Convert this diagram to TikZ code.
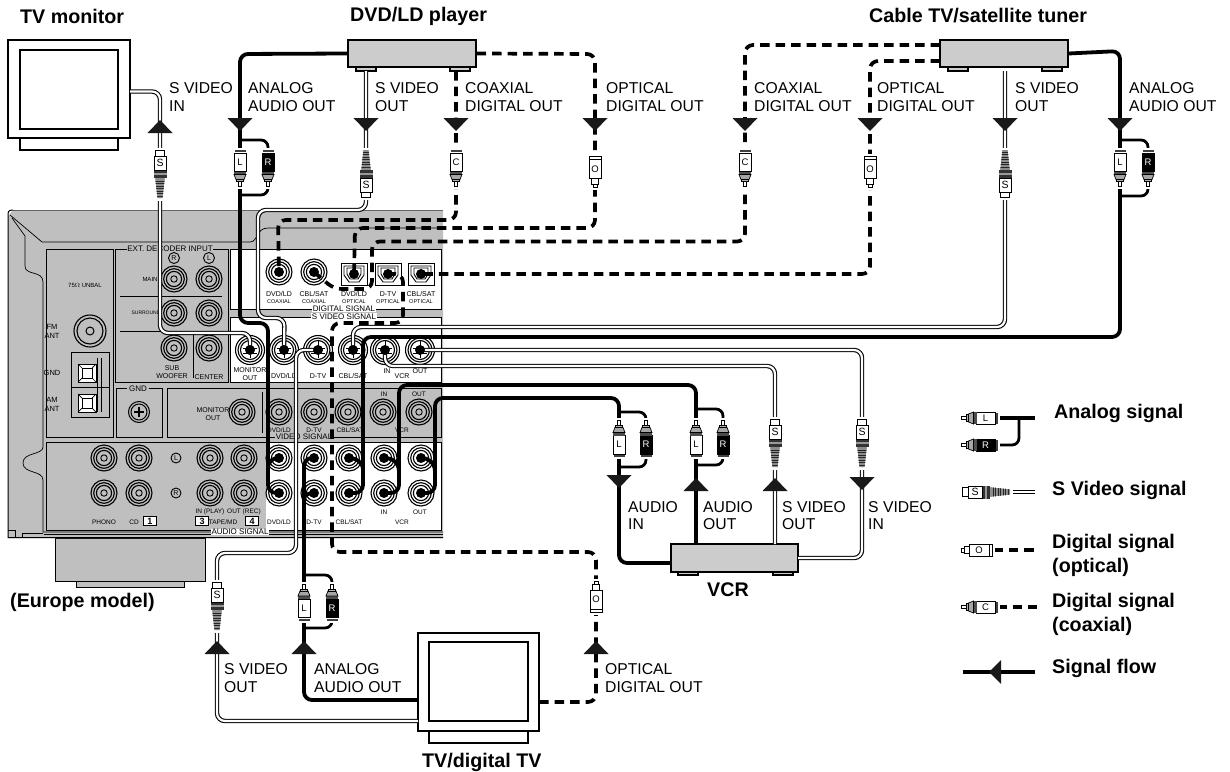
\documentclass[tikz,border=0pt]{standalone}
\usepackage{fontspec}
\setmainfont{Liberation Sans}
\definecolor{panelgray}{gray}{0.75}
\definecolor{boxgray}{gray}{0.80}
\newcounter{nodectr}
\newcommand\nn{n\number\value{nodectr}}
\tikzset{
  lab/.style={font=\fontsize{15.7}{17.6}\selectfont,anchor=west,align=left,inner sep=0pt},
  ttl/.style={font=\fontsize{19.7}{22}\selectfont\bfseries,anchor=west,align=left,inner sep=0pt},
  leg/.style={font=\fontsize{19.7}{24}\selectfont\bfseries,anchor=west,align=left,inner sep=0pt},
  device/.style={draw=black,line width=1.3pt,fill=boxgray,inner sep=0pt},
  frame/.style={draw=black,line width=1.3pt,fill=white,inner sep=0pt},
  analog/.style={draw=black,line width=3.8pt,rounded corners=8pt},
  branch/.style={draw=black,line width=2.8pt,rounded corners=7pt},
  svid/.style={draw=black,line width=1.1pt,double=white,double distance=2.2pt,rounded corners=8pt},
  digi/.style={draw=black,line width=3.7pt,dash pattern=on 9.5pt off 6pt,rounded corners=8pt},
  panelline/.style={draw=black,line width=0.7pt},
  pbox/.style={draw=black,line width=0.9pt},
}
% small panel text
\newcommand\sm[4][7]{\stepcounter{nodectr}\node[font=\fontsize{#1}{#1}\selectfont,inner sep=0pt,align=center] (\nn) at (#2,#3) {#4};}
\newcommand\smf[5][7]{\stepcounter{nodectr}\node[font=\fontsize{#1}{#1}\selectfont,inner sep=0.6pt,fill=#5,align=center] (\nn) at (#2,#3) {#4};}
% jacks
\newcommand\jack[2]{\draw[line width=1.1pt] (#1,#2) circle[radius=13pt] (#1,#2) circle[radius=10.3pt] (#1,#2) circle[radius=7.6pt];\draw[line width=0.9pt] (#1,#2) circle[radius=3.2pt];}
\newcommand\sjack[2]{\draw[line width=1.1pt] (#1,#2) circle[radius=14.5pt] (#1,#2) circle[radius=12pt] (#1,#2) circle[radius=9.5pt];\draw[line width=0.8pt] (#1-7,#2-2)--(#1+7,#2-2) (#1-7,#2+3)--(#1+7,#2+3) (#1,#2-9)--(#1,#2+8);}
\newcommand\opt[2]{\draw[line width=0.9pt,fill=white] (#1-13,#2-11) rectangle (#1+13,#2+11);\draw[line width=0.9pt] (#1-10,#2-8)--(#1+10,#2-8)--(#1+10,#2+1)--(#1+5,#2+8)--(#1-5,#2+8)--(#1-10,#2+1)--cycle (#1-7,#2-6)--(#1+7,#2-6)--(#1+7,#2)--(#1+4,#2+5)--(#1-4,#2+5)--(#1-7,#2)--cycle;}
\newcommand\dotj[1]{\fill[black] (#1) circle[radius=5pt];}
% flow arrows
\newcommand\flowdn[2]{\fill[black!90] (#1-12.5,#2)--(#1+12.5,#2)--(#1,#2+13)--cycle;}
\newcommand\flowup[2]{\fill[black!90] (#1-12.5,#2+13)--(#1+12.5,#2+13)--(#1,#2)--cycle;}
% plugs: x y rotation label bodycolor textcolor
\newcommand\rca[6]{\stepcounter{nodectr}\begin{scope}[shift={(#1,#2)},rotate=#3]
  \fill[white] (-7,-20.5) rectangle (7,20.5);
  \fill[black!75] (-5.5,-18.5) rectangle (5.5,-16.5);
  \draw[line width=0.8pt,fill=#5] (-6,-15.5) rectangle (6,3);
  \fill[black!70] (-6,3) rectangle (6,6);
  \draw[line width=0.7pt,fill=black!35] (-6,6)--(6,6)--(4,11)--(-4,11)--cycle;
  \draw[line width=0.7pt,fill=black!30] (-3.5,11) rectangle (3.5,13);
  \draw[line width=0.7pt,fill=white] (-1.3,13) rectangle (1.3,18) ;
  \node[font=\fontsize{9.5}{9.5}\selectfont,text=#6,inner sep=0pt] (\nn) at (0,-6) {#4};
\end{scope}}
\newcommand\splug[3]{\stepcounter{nodectr}\begin{scope}[shift={(#1,#2)},rotate=#3]
  \fill[white] (-7.5,-26.5) rectangle (7.5,26);
  \fill[black!45] (-2.8,-24)--(2.8,-24)--(5,-4)--(-5,-4)--cycle;
  \foreach \t in {-22,-19.5,...,-5}{\draw[black!85,line width=0.6pt] (-5,\t)--(5,\t);}
  \fill[white] (-7.5,-24)--(-2.8,-24)--(-5,-4)--(-7.5,-4)--cycle (7.5,-24)--(2.8,-24)--(5,-4)--(7.5,-4)--cycle;
  \fill[black!80] (-6.5,-4) rectangle (6.5,4);
  \fill[black!40] (-6.5,-1) rectangle (6.5,1);
  \draw[line width=0.7pt,fill=white] (-6,4) rectangle (6,18);
  \draw[line width=0.7pt,fill=white] (-4.5,18) rectangle (4.5,23.5);
  \node[font=\fontsize{10.5}{10.5}\selectfont,inner sep=0pt] (\nn) at (0,11) {S};
\end{scope}}
\newcommand\oplug[3]{\stepcounter{nodectr}\begin{scope}[shift={(#1,#2)},rotate=#3]
  \fill[white] (-7,-18) rectangle (7,18);
  \draw[line width=0.7pt,fill=white] (-6,-15.5) rectangle (6,-12.5);
  \draw[line width=0.7pt,fill=white] (-6,-12.5) rectangle (6,7);
  \draw[line width=0.7pt,fill=white] (-3.8,7) rectangle (3.8,12.5);
  \draw[line width=0.7pt,fill=white] (-2,12.5) rectangle (2,15.5);
  \node[font=\fontsize{9.5}{9.5}\selectfont,inner sep=0pt] (\nn) at (0,-2.5) {O};
\end{scope}}
\begin{document}
\begin{tikzpicture}[x=1pt,y=-1pt]
\useasboundingbox (0,0) rectangle (1230,771);
\fill[white] (0,0) rectangle (1230,771);

%%% receiver panel
\node[draw=black,line width=1pt,fill=panelgray,minimum width=150pt,minimum height=43pt,inner sep=0pt] (stand) at (130,559.5) {};
\node[draw=black,line width=1pt,fill=panelgray,minimum width=108pt,minimum height=6pt,inner sep=0pt] (standb) at (130,584) {};
\fill[panelgray] (8,538)--(8,216)--(13,210)--(443,210)--(443,538)--cycle;
\draw[black!60,line width=0.6pt] (443,210)--(13,210);
\draw[line width=1pt] (13,210)..controls (8,210) and (8,212) .. (8,216)--(8,537.5)--(443,537.5);
\draw[panelline] (10,215)--(42,242)--(250,242)..controls (258,242) and (256,228) .. (268,228)--(443,228);
\draw[panelline] (12,218)--(25,236)--(25,266)..controls (25,276) and (43,270) .. (43,282)--(43,447)..controls (43,455) and (23,452) .. (23,463)..controls (23,474) and (43,470) .. (43,480)--(43,532)--(443,532);
\draw[panelline] (8,530)--(15,530)--(15,537) (22,537)--(22,533)--(43,533);
\draw[panelline] (44,534.5)--(443,534.5);
% boxes
\draw[pbox] (46,249) rectangle (113,437);
\draw[pbox] (115,249) rectangle (228,382);
\draw[pbox,fill=white] (230,249)--(441,249)--(441,309)--(230,309)--cycle;
\draw[pbox,fill=white] (230,317)--(441,317)--(441,382)--(230,382)--cycle;
\draw[pbox] (116,388) rectangle (162,437);
\draw[pbox] (167,388) rectangle (441,437);
\draw[pbox] (46,442) rectangle (441,530);
\fill[white] (266,442.5) rectangle (440.5,529.5);
\draw[line width=0.9pt] (120,296)--(222,296) (120,331)--(222,331) (193,335)--(193,378) (262,392)--(262,433);
% ext decoder jacks
\foreach \x/\y in {174/279,209/279,174/313,209/313,174/348,209/348,
  242/412,279/412,314/412,348/412,383/412,419/412,
  104/458,139/458,210/458,244/458,279/458,314/458,349/458,384/458,421/458,
  104/493,139/493,210/493,244/493,279/493,314/493,349/493,384/493,421/493,
  279/272,314/272} {\jack{\x}{\y}}
\draw[line width=1.1pt] (90,331) circle[radius=16pt] (90,331) circle[radius=13pt];
\draw[line width=1pt] (90,331) circle[radius=4pt];
\foreach \x in {250,284,318,353,385,420} {\sjack{\x}{350}}
\foreach \x in {354,388,421} {\opt{\x}{274}}
\draw[line width=0.9pt] (174,258) circle[radius=5.5pt] (209,258) circle[radius=5.5pt];
\draw[line width=0.9pt] (176,458) circle[radius=5pt] (176,493) circle[radius=5pt];
\sm[7]{174}{258}{R}\sm[7]{209}{258}{L}
\sm[7]{176}{458}{L}\sm[7]{176}{493}{R}
% terminals
\draw[line width=1pt,fill=black!25] (71,352) rectangle (109,417);
\draw[line width=0.8pt] (71,387)--(109,387) (97,358)--(97,412) (101,358)--(101,412);
\foreach \y in {373,403} {\draw[line width=1pt,fill=white] (78,\y-9) rectangle (96,\y+9);\draw[line width=0.7pt] (78,\y-9)--(96,\y+9) (96,\y-9)--(78,\y+9);\draw[line width=0.8pt,fill=white] (82,\y-5) rectangle (92,\y+5);}
\draw[line width=1pt] (139,412) circle[radius=10.5pt] (139,412) circle[radius=8pt];
\draw[line width=1.6pt] (134,412)--(144,412) (139,407)--(139,417);
% panel text
\smf[8]{170}{249}{EXT. DECODER INPUT}{panelgray}
\smf[8]{138}{389}{\,GND\,}{panelgray}
\sm[6]{85}{285}{75$\Omega$ UNBAL}
\sm[6]{150}{279}{MAIN}\sm[5]{146}{313}{SURROUND}
\sm[7.5]{52}{331.5}{FM\\[1pt]ANT}\sm[7.5]{52}{373}{GND}\sm[7.5]{52}{404.5}{AM\\[1pt]ANT}
\sm[7]{172}{372}{SUB\\[0.5pt]WOOFER}\sm[7]{209}{377}{CENTER}
\sm[7]{213}{414}{MONITOR\\[1pt]OUT}
\sm[7]{279}{294}{DVD/LD}\sm[5.5]{279}{302}{COAXIAL}
\sm[7]{314}{294}{CBL/SAT}\sm[5.5]{314}{302}{COAXIAL}
\sm[7]{354}{294}{DVD/LD}\sm[5.5]{354}{302}{OPTICAL}
\sm[7]{388}{294}{D-TV}\sm[5.5]{388}{302}{OPTICAL}
\sm[7]{421}{294}{CBL/SAT}\sm[5.5]{421}{302}{OPTICAL}
\smf[8]{344}{309}{DIGITAL SIGNAL}{white}
\smf[8]{344}{316.5}{S VIDEO SIGNAL}{white}
\sm[7]{250}{374}{MONITOR\\[0.5pt]OUT}
\sm[7]{284}{376}{DVD/LD}\sm[7]{318}{376}{D-TV}\sm[7]{353}{376}{CBL/SAT}
\sm[7]{387}{371}{IN}\sm[7]{402}{376}{VCR}\sm[7]{420}{371}{OUT}
\sm[6.5]{279}{430}{DVD/LD}\sm[6.5]{314}{430}{D-TV}\sm[6.5]{350}{430}{CBL/SAT}\sm[6.5]{402}{430}{VCR}
\sm[6.5]{384}{394}{IN}\sm[6.5]{419}{394}{OUT}
\smf[8]{304}{437}{VIDEO SIGNAL}{panelgray}
\sm[6.5]{104}{522}{PHONO}\sm[6.5]{134}{522}{CD}
\sm[6.5]{223}{522}{TAPE/MD}
\sm[6.5]{210}{512}{IN (PLAY)}\sm[6.5]{244}{512}{OUT (REC)}
\sm[6.5]{279}{522}{DVD/LD}\sm[6.5]{314}{522}{D-TV}\sm[6.5]{349}{522}{CBL/SAT}\sm[6.5]{402}{522}{VCR}
\sm[6.5]{384}{512}{IN}\sm[6.5]{420}{512}{OUT}
\foreach \x/\d in {150/1,202/3,252/4} {\stepcounter{nodectr}\node[draw=black,line width=1.2pt,fill=white,minimum width=13pt,minimum height=9pt,inner sep=0pt,font=\fontsize{9}{9}\selectfont\bfseries] (\nn) at (\x,521) {\d};}
\smf[8]{240}{532}{AUDIO SIGNAL}{white}

%%% devices
\draw[line width=1.2pt,fill=white] (20,138) rectangle (118,150);
\node[frame,minimum width=122pt,minimum height=98pt] (monitor) at (69,89) {};
\node[frame,minimum width=98pt,minimum height=79pt] (monscr) at (69,89.5) {};
\draw[line width=1.1pt,fill=boxgray] (356,67) rectangle (376,71) (450,67) rectangle (470,71);
\node[device,minimum width=128pt,minimum height=27pt] (dvd) at (412,53.5) {};
\draw[line width=1.1pt,fill=boxgray] (948,67) rectangle (968,71) (1042,67) rectangle (1062,71);
\node[device,minimum width=128pt,minimum height=27pt] (tuner) at (1004,53.5) {};
\draw[line width=1.1pt,fill=boxgray] (678,572) rectangle (698,575) (773,572) rectangle (793,575);
\node[device,minimum width=127pt,minimum height=28pt] (vcr) at (734.5,558) {};
\draw[line width=1.2pt,fill=white] (429,731) rectangle (528,743);
\node[frame,minimum width=121pt,minimum height=98pt] (dtv) at (478.5,682) {};
\node[frame,minimum width=99pt,minimum height=79pt] (dtvscr) at (478.5,681.5) {};

%%% named ports
\coordinate (jMon) at (250,350); \coordinate (jSdvd) at (284,350); \coordinate (jSdtv) at (318,350);
\coordinate (jScbl) at (353,350); \coordinate (jSvin) at (385,350); \coordinate (jSvout) at (420,350);
\coordinate (jDcoax) at (279,272); \coordinate (jCcoax) at (314,272); \coordinate (jDopt) at (354,274);
\coordinate (jTopt) at (388,274); \coordinate (jCopt) at (421,274);
\coordinate (jAdL) at (279,458); \coordinate (jAdR) at (279,493);
\coordinate (jAtL) at (314,458); \coordinate (jAtR) at (314,493);
\coordinate (jAcL) at (349,458); \coordinate (jAcR) at (349,493);
\coordinate (jAvL) at (384,458); \coordinate (jAvR) at (384,493);
\coordinate (jAoL) at (421,458); \coordinate (jAoR) at (421,493);
\coordinate (pMonS) at (130,91.5);
\coordinate (pDvdS) at (366,71); \coordinate (pDvdC) at (456,71); 
\coordinate (pTunC) at (940,45); \coordinate (pTunO) at (940,61); \coordinate (pTunS) at (1005,71);
\coordinate (pVcrAo) at (696,544); \coordinate (pVcrAi) at (671,563); \coordinate (pVcrSo) at (775,544); \coordinate (pVcrSi) at (798,558);
\coordinate (pTvS) at (418,721); \coordinate (pTvA) at (418,700); \coordinate (pTvD) at (539,702);

%%% digital cables
\path[digi] (pDvdC)--(456,220)--(278,220)--(jDcoax);
\path[digi] (dvd.east)--(595,54)--(595,228)--(355,228)--(jDopt);
\path[digi] (pTunC)--(745,45)--(745,241.5)--(372,241.5)--(372,289)--(334,289)--(jCcoax);
\path[digi] (pTunO)--(870,61)--(870,274)--(jCopt);
\path[digi] (pTvD)--(596,702)--(596,552)--(332,552)--(332,323)--(403,323)--(403,274)--(jTopt);

%%% S video cables
\path[svid] (pMonS)--(160,91.5)--(160,333)--(250,333)--(jMon);
\path[svid] (pDvdS)--(366,210)--(258,210)--(258,318)--(284.5,318)--(jSdvd);
\path[svid] (pTunS)--(1005,327)--(353,327)--(jScbl);
\path[svid] (jSvin)--(385,366)--(775,366)--(pVcrSo);
\path[svid] (jSvout)--(862,350)--(862,558)--(pVcrSi);
\path[svid] (jSdtv)--(296,350)--(296,553)--(217,553)--(217,721)--(pTvS);

%%% analog cables
\path[analog] (dvd.west)--(240,54)--(240,323)--(268,323)--(268,493)--(jAdR);
\path[analog] (268,468)..controls (268,462) and (272,458) .. (jAdL);
\path[analog] (tuner.east)--(1120,51)--(1120,337)--(363,337)--(363,493)--(jAcR);
\path[analog] (363,470)..controls (363,462) and (356,458) .. (jAcL);
\path[analog] (pVcrAo)--(696,385)--(399,385)--(399,493)--(jAvR);
\path[analog] (399,472)..controls (399,462) and (392,458) .. (jAvL);
\path[analog] (pVcrAi)--(619,563)--(619,398)--(435,398)--(435,493)--(jAoR);
\path[analog] (435,472)..controls (435,462) and (428,458) .. (jAoL);
\path[analog] (pTvA)--(304,700)--(304,458)--(jAtL);
\path[analog] (304,500)..controls (304,495) and (308,493) .. (jAtR);
% branches to the R plugs
\path[branch] (240,140)--(268,140)--(268,152) (240,195)--(268,195)--(268,186);
\path[branch] (1120,140)--(1148,140)--(1148,152) (1120,196)--(1148,196)--(1148,186);
\path[branch] (619,412)--(646,412)--(646,422) (619,467)--(646,467)--(646,456);
\path[branch] (696,409)--(723,409)--(723,420) (696,465)--(723,465)--(723,454);
\path[branch] (304,575)--(332,575)--(332,586) (304,628)--(332,628)--(332,618);
% jack ends
\foreach \c in {jMon,jSdvd,jSdtv,jScbl,jSvin,jSvout,jDcoax,jCcoax,jDopt,jTopt,jCopt,jAdL,jAdR,jAtL,jAtR,jAcL,jAcR,jAvL,jAvR,jAoL,jAoR} {\dotj{\c}}

%%% plugs
\splug{160}{174}{180}
\splug{366}{174}{0}
\rca{240}{168.5}{0}{L}{white}{black}
\rca{268}{168.5}{0}{R}{black}{white}
\rca{456}{168.5}{0}{C}{white}{black}
\oplug{595}{171.5}{0}
\rca{745}{168.5}{0}{C}{white}{black}
\oplug{870}{171.5}{0}
\splug{1005}{174}{0}
\rca{1120}{168.5}{0}{L}{white}{black}
\rca{1148}{168.5}{0}{R}{black}{white}
\rca{619}{438.5}{180}{L}{white}{black}
\rca{646}{438.5}{180}{R}{black}{white}
\rca{696}{438.5}{180}{L}{white}{black}
\rca{723}{438.5}{180}{R}{black}{white}
\splug{775}{443}{180}
\splug{862}{443}{180}
\splug{217}{606}{180}
\rca{304}{602}{180}{L}{white}{black}
\rca{332}{602}{180}{R}{black}{white}
\oplug{596}{597}{180}

%%% flow arrows
\flowup{160}{120}
\flowdn{240}{118}\flowdn{366}{118}\flowdn{456}{118}\flowdn{595}{118}
\flowdn{745}{118}\flowdn{870}{118}\flowdn{1005}{118}\flowdn{1120}{118}
\flowdn{619}{475}\flowup{696}{478}\flowup{775}{478}\flowdn{862}{477}
\flowup{217}{641}\flowup{304}{641}\flowup{596}{641}

%%% labels
\node[ttl] (tMon) at (20,16) {TV monitor};
\node[ttl] (tDvd) at (350,16) {DVD/LD player};
\node[ttl] (tTun) at (869,16) {Cable TV/satellite tuner};
\node[ttl] (tEur) at (10,602) {(Europe model)};
\node[ttl] (tVcr) at (707,590) {VCR};
\node[ttl] (tDtv) at (422,762) {TV/digital TV};
\node[lab] (a1) at (169,97) {S VIDEO\\IN};
\node[lab] (a2) at (248,97) {ANALOG\\AUDIO OUT};
\node[lab] (a3) at (375,97) {S VIDEO\\OUT};
\node[lab] (a4) at (465,97) {COAXIAL\\DIGITAL OUT};
\node[lab] (a5) at (606,97) {OPTICAL\\DIGITAL OUT};
\node[lab] (a6) at (754,97) {COAXIAL\\DIGITAL OUT};
\node[lab] (a7) at (877,97) {OPTICAL\\DIGITAL OUT};
\node[lab] (a8) at (1015,97) {S VIDEO\\OUT};
\node[lab] (a9) at (1129,97) {ANALOG\\AUDIO OUT};
\node[lab] (b1) at (628,515.5) {AUDIO\\IN};
\node[lab] (b2) at (703,515.5) {AUDIO\\OUT};
\node[lab] (b3) at (782,515.5) {S VIDEO\\OUT};
\node[lab] (b4) at (868,515.5) {S VIDEO\\IN};
\node[lab] (c1) at (224,678) {S VIDEO\\OUT};
\node[lab] (c2) at (314,678) {ANALOG\\AUDIO OUT};
\node[lab] (c3) at (605,678) {OPTICAL\\DIGITAL OUT};

%%% legend
\coordinate (lgA) at (1035,418); \coordinate (lgAp) at (990,418); \coordinate (lgR) at (992,445);
\path[analog] (lgAp)--(lgA);
\path[branch] (lgR)--(1019,445)--(1019,418);
\rca{979.5}{418}{-90}{L}{white}{black}
\rca{979.5}{445}{-90}{R}{black}{white}
\coordinate (lgS1) at (1005,492); \coordinate (lgS2) at (1035,492);
\path[svid] (lgS1)--(lgS2);
\splug{986}{492}{-90}
\coordinate (lgO1) at (993,550); \coordinate (lgO2) at (1038,550);
\path[digi] (lgO1)--(lgO2);
\oplug{976.5}{550}{-90}
\coordinate (lgC1) at (997,607); \coordinate (lgC2) at (1037,607);
\path[digi] (lgC1)--(lgC2);
\rca{979.5}{607}{-90}{C}{white}{black}
\coordinate (lgF1) at (963,672); \coordinate (lgF2) at (1035,672);
\path[analog] (lgF1)--(lgF2);
\fill[black!90] (989,672)--(1001,660)--(1001,684)--cycle;
\node[leg] (d1) at (1054,413) {Analog signal};
\node[leg] (d2) at (1052,490) {S Video signal};
\node[leg] (d3) at (1052,555) {Digital signal\\(optical)};
\node[leg] (d4) at (1052,614) {Digital signal\\(coaxial)};
\node[leg] (d5) at (1052,668) {Signal flow};
\end{tikzpicture}
\end{document}
